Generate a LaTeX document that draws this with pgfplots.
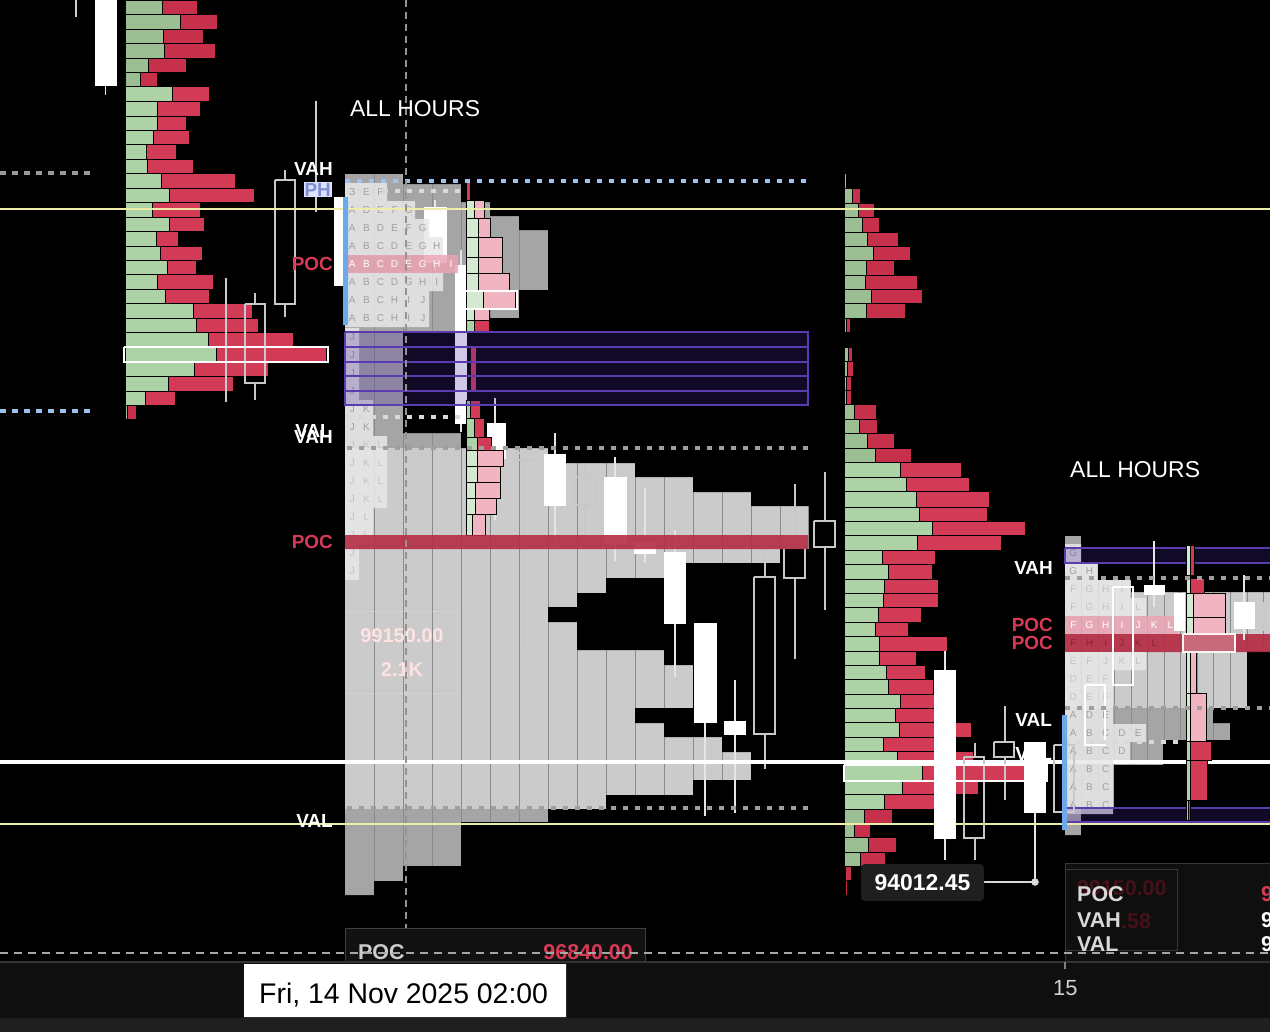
\documentclass[border=0pt]{standalone}
\usepackage{fontspec}
\setmainfont{Liberation Sans}
\usepackage{pgfplots}
\pgfplotsset{compat=1.18}

\definecolor{gU}{HTML}{9BBE92}
\definecolor{gV}{HTML}{ADD2A5}
\definecolor{rU}{HTML}{C6304B}
\definecolor{rV}{HTML}{D23A56}
\definecolor{lg}{HTML}{CBCBCB}
\definecolor{dg}{HTML}{A5A5A5}
\definecolor{cl}{HTML}{8A8A8A}
\definecolor{tc}{HTML}{E8E8E8}
\definecolor{pk}{HTML}{EBA4B4}
\definecolor{pocr}{HTML}{B52D45}
\definecolor{pu}{HTML}{46289A}
\definecolor{pul}{HTML}{5B3BB0}
\definecolor{bl}{HTML}{6EA8EC}
\definecolor{bld}{HTML}{9EC2EE}
\definecolor{yl}{HTML}{EDEDA8}
\definecolor{hol}{HTML}{C8C8C8}
\definecolor{lab}{HTML}{D83A56}
\definecolor{sg}{HTML}{D3EAD0}
\definecolor{sp}{HTML}{F1B5C2}
\definecolor{lt1}{HTML}{A0A0A0}
\definecolor{lt2}{HTML}{C4C4C4}
\definecolor{phc}{HTML}{7D8FD4}

% box: options, x0, y0, x1, y1
\newcommand{\bx}[5]{\addplot[#1] coordinates {(#2,#3) (#4,#3) (#4,#5) (#2,#5) (#2,#3)};}
% profile row: green, red, y0, y1, base, green end, red end
\newcommand{\pr}[7]{\bx{fill=#1,draw=black,line width=.6bp}{#5}{#3}{#6}{#4}\bx{fill=#2,draw=black,line width=.6bp}{#6}{#3}{#7}{#4}}
% gray volume rows
\newcommand{\gr}[4]{\bx{fill=#1,draw=none}{345}{#2}{#4}{#3}}
\newcommand{\grr}[4]{\bx{fill=#1,draw=none}{1065}{#2}{#4}{#3}}
\newcommand{\mk}[3]{\bx{fill=black,draw=none}{#3}{#1}{812}{#2}}
\newcommand{\mkr}[3]{\bx{fill=black,draw=none}{#3}{#1}{1275}{#2}}
\newcommand{\vl}[3]{\addplot[draw=cl,line width=.8bp] coordinates {(#1,#2) (#1,#3)};}
% candles: x0 x1 xc top bottom wicktop wickbottom
\newcommand{\cw}[7]{\addplot[draw=white!90!black,line width=1.3bp] coordinates {(#3,#6) (#3,#4)};
 \addplot[draw=white!90!black,line width=1.3bp] coordinates {(#3,#5) (#3,#7)};
 \bx{fill=white,draw=white,line width=.6bp}{#1}{#4}{#2}{#5}}
\newcommand{\ch}[7]{\addplot[draw=hol,line width=1.3bp] coordinates {(#3,#6) (#3,#4)};
 \addplot[draw=hol,line width=1.3bp] coordinates {(#3,#5) (#3,#7)};
 \bx{draw=hol,fill=none,line width=1.5bp}{#1}{#4}{#2}{#5}}
% TPO letters
\def\tpl#1{\tplA#1\relax}
\def\tplA#1{\ifx#1\relax\else\hbox to 14.1bp{\hss#1\hss}\expandafter\tplA\fi}
\def\tpr#1{\tprA#1\relax}
\def\tprA#1{\ifx#1\relax\else\hbox to 16.2bp{\hss#1\hss}\expandafter\tprA\fi}
\newcommand{\tpf}{\fontsize{10}{12}\selectfont}
\newcommand{\tp}[6]{\bx{fill=#4,draw=none,fill opacity=.85}{345}{#1}{#3}{#2}
 \node[anchor=base west,inner sep=0,text=#5,font=\tpf,yshift=5.5bp] at (axis cs:345,#2) {\tpl{#6}};}
\newcommand{\tpR}[6]{\bx{fill=#4,draw=none,fill opacity=.85}{1065}{#1}{#3}{#2}
 \node[anchor=base west,inner sep=0,text=#5,font=\tpf,yshift=5.5bp] at (axis cs:1065,#2) {\tpr{#6}};}
\newcommand{\lb}[1]{\fontsize{#1}{#1}\selectfont\bfseries}

\begin{document}
\begin{tikzpicture}
\begin{axis}[scale only axis, width=1270bp, height=1032bp,
  xmin=0, xmax=1270, ymin=0, ymax=1032, y dir=reverse,
  hide axis, clip=true, no markers]
\coordinate (SW) at (axis cs:0,1032);
\coordinate (NE) at (axis cs:1270,0);

% background
\bx{fill=black,draw=none}{0}{0}{1270}{1032}

% --- middle volume profile (gray)
\gr{dg}{174}{184}{403} \gr{dg}{184}{202}{461} \gr{dg}{202}{216}{490}
\gr{dg}{216}{230}{519} \gr{dg}{230}{290}{548} \gr{dg}{290}{318}{519}
\gr{dg}{318}{332}{490} \gr{dg}{332}{400}{403} \gr{dg}{400}{433}{403}
\gr{dg}{433}{448}{461}
\gr{lg}{448}{463}{548} \gr{lg}{463}{477}{635} \gr{lg}{477}{492}{693}
\gr{lg}{492}{506}{751} \gr{lg}{506}{549}{808} \gr{lg}{549}{563}{780}
\gr{lg}{563}{578}{664} \gr{lg}{578}{593}{606} \gr{lg}{593}{607}{577}
\gr{lg}{607}{622}{548} \gr{lg}{622}{650}{577} \gr{lg}{650}{665}{664}
\gr{lg}{665}{708}{693} \gr{lg}{708}{723}{635} \gr{lg}{723}{737}{664}
\gr{lg}{737}{752}{722} \gr{lg}{752}{780}{751} \gr{lg}{780}{795}{693}
\gr{lg}{795}{809}{606}
\gr{dg}{809}{822}{548} \gr{dg}{822}{866}{461} \gr{dg}{866}{881}{403}
\gr{dg}{881}{895}{374}
\vl{374}{174}{895} \vl{403}{174}{895} \vl{432}{174}{895} \vl{461}{174}{895}
\vl{490}{174}{895} \vl{519}{174}{895} \vl{548}{174}{895} \vl{577}{174}{895}
\vl{606}{174}{895} \vl{635}{174}{895} \vl{664}{174}{895} \vl{693}{174}{895}
\vl{722}{174}{895} \vl{751}{174}{895} \vl{780}{174}{895} \vl{808}{174}{895}
\mk{174}{184}{403} \mk{184}{202}{461} \mk{202}{216}{490} \mk{216}{230}{519}
\mk{230}{290}{548} \mk{290}{318}{519} \mk{318}{332}{490} \mk{332}{400}{403}
\mk{400}{433}{403} \mk{433}{448}{461} \mk{448}{463}{548} \mk{463}{477}{635}
\mk{477}{492}{693} \mk{492}{506}{751} \mk{506}{549}{809} \mk{549}{563}{780}
\mk{563}{578}{664} \mk{578}{593}{606} \mk{593}{607}{577} \mk{607}{622}{548}
\mk{622}{650}{577} \mk{650}{665}{664} \mk{665}{708}{693} \mk{708}{723}{635}
\mk{723}{737}{664} \mk{737}{752}{722} \mk{752}{780}{751} \mk{780}{795}{693}
\mk{795}{809}{606} \mk{809}{822}{548} \mk{822}{866}{461} \mk{866}{881}{403}
\mk{881}{895}{374}

% --- right volume profile (gray)
\grr{dg}{536}{563}{1081} \grr{lg}{563}{580}{1098} \grr{lg}{580}{592}{1131}
\grr{lg}{592}{651}{1275} \grr{lg}{651}{708}{1247} \grr{dg}{708}{723}{1213}
\grr{dg}{723}{740}{1230} \grr{dg}{740}{765}{1163} \grr{dg}{765}{808}{1114}
\grr{dg}{808}{835}{1081}
\vl{1081}{536}{835} \vl{1098}{536}{835} \vl{1114}{536}{835} \vl{1131}{536}{835}
\vl{1147}{536}{835} \vl{1164}{536}{835} \vl{1180}{536}{835} \vl{1197}{536}{835}
\vl{1213}{536}{835} \vl{1230}{536}{835} \vl{1247}{536}{835} \vl{1263}{536}{835}
\mkr{536}{563}{1081} \mkr{563}{580}{1098} \mkr{580}{592}{1131}
\mkr{651}{708}{1247} \mkr{708}{723}{1213} \mkr{723}{740}{1230}
\mkr{740}{765}{1163} \mkr{765}{808}{1114} \mkr{808}{835}{1081}

% --- left volume profile (green / red)
\pr{gU}{rU}{0}{14}{125}{162}{197}   \pr{gU}{rU}{14}{29}{125}{180}{217}
\pr{gU}{rU}{29}{43}{125}{163}{203}  \pr{gU}{rU}{43}{58}{125}{164}{215}
\pr{gU}{rU}{58}{72}{125}{148}{186}  \pr{gU}{rU}{72}{86}{125}{140}{157}
\pr{gV}{rV}{86}{101}{125}{172}{209} \pr{gV}{rV}{101}{116}{125}{157}{200}
\pr{gV}{rV}{116}{130}{125}{157}{186} \pr{gV}{rV}{130}{144}{125}{153}{189}
\pr{gV}{rV}{144}{159}{125}{146}{176} \pr{gV}{rV}{159}{173}{125}{147}{193}
\pr{gV}{rV}{173}{188}{125}{161}{235} \pr{gV}{rV}{188}{202}{125}{169}{254}
\pr{gV}{rV}{202}{217}{125}{152}{200} \pr{gV}{rV}{217}{231}{125}{169}{204}
\pr{gV}{rV}{231}{246}{125}{156}{178} \pr{gV}{rV}{246}{260}{125}{160}{202}
\pr{gV}{rV}{260}{274}{125}{167}{196} \pr{gV}{rV}{274}{289}{125}{157}{213}
\pr{gV}{rV}{289}{303}{125}{165}{209} \pr{gV}{rV}{303}{318}{125}{193}{252}
\pr{gV}{rV}{318}{332}{125}{196}{258} \pr{gV}{rV}{332}{347}{125}{208}{293}
\pr{gV}{rV}{347}{362}{125}{216}{326} \pr{gV}{rV}{362}{376}{125}{194}{268}
\pr{gV}{rV}{376}{391}{125}{168}{233} \pr{gV}{rV}{391}{405}{125}{145}{175}
\pr{gU}{rU}{405}{419}{125}{127}{136}

% --- middle volume profile (green / red)
\pr{gU}{rU}{173}{188}{844}{846}{846} \pr{gU}{rU}{188}{203}{844}{852}{860}
\pr{gU}{rU}{203}{217}{844}{858}{874} \pr{gU}{rU}{217}{232}{844}{862}{879}
\pr{gU}{rU}{232}{246}{844}{867}{898} \pr{gU}{rU}{246}{260}{844}{873}{910}
\pr{gU}{rU}{260}{275}{844}{866}{894} \pr{gU}{rU}{275}{289}{844}{865}{917}
\pr{gU}{rU}{289}{303}{844}{871}{922} \pr{gU}{rU}{303}{318}{844}{866}{905}
\pr{gU}{rU}{318}{332}{844}{846}{850} \pr{gU}{rU}{332}{347}{844}{845}{846}
\pr{gU}{rU}{347}{361}{844}{848}{852} \pr{gU}{rU}{361}{376}{844}{847}{853}
\pr{gU}{rU}{376}{390}{844}{846}{851} \pr{gU}{rU}{390}{404}{844}{846}{851}
\pr{gU}{rU}{404}{419}{844}{854}{876} \pr{gU}{rU}{419}{433}{844}{859}{877}
\pr{gU}{rU}{433}{448}{844}{867}{894} \pr{gU}{rU}{448}{462}{844}{875}{911}
\pr{gV}{rV}{462}{477}{844}{900}{961} \pr{gV}{rV}{477}{491}{844}{906}{969}
\pr{gV}{rV}{491}{507}{844}{916}{989} \pr{gV}{rV}{507}{521}{844}{919}{987}
\pr{gV}{rV}{521}{535}{844}{932}{1025} \pr{gV}{rV}{535}{550}{844}{917}{1001}
\pr{gV}{rV}{550}{564}{844}{882}{935} \pr{gV}{rV}{564}{579}{844}{888}{932}
\pr{gV}{rV}{579}{593}{844}{884}{938} \pr{gV}{rV}{593}{607}{844}{883}{938}
\pr{gV}{rV}{607}{622}{844}{878}{921} \pr{gV}{rV}{622}{636}{844}{875}{908}
\pr{gV}{rV}{636}{651}{844}{879}{947} \pr{gV}{rV}{651}{665}{844}{879}{916}
\pr{gV}{rV}{665}{679}{844}{886}{925} \pr{gV}{rV}{679}{694}{844}{888}{933}
\pr{gV}{rV}{694}{708}{844}{900}{953} \pr{gV}{rV}{708}{722}{844}{895}{948}
\pr{gV}{rV}{722}{737}{844}{899}{971} \pr{gV}{rV}{737}{751}{844}{883}{945}
\pr{gV}{rV}{751}{765}{844}{897}{973} \pr{gV}{rV}{765}{780}{844}{922}{1045}
\pr{gV}{rV}{780}{794}{844}{902}{978} \pr{gV}{rV}{794}{809}{844}{884}{948}
\pr{gU}{rU}{809}{823}{844}{864}{892} \pr{gU}{rU}{823}{837}{844}{854}{870}
\pr{gU}{rU}{837}{852}{844}{868}{896} \pr{gU}{rU}{852}{866}{844}{860}{885}
\pr{gU}{rU}{866}{880}{844}{845}{851} \pr{gU}{rU}{880}{895}{844}{845}{847}

% --- candles (left and middle)
\addplot[draw=white!80!black,line width=1.3bp] coordinates {(76,0) (76,17)};
\cw{95}{116}{105.5}{0}{85}{0}{95}
\ch{275}{295}{285}{180}{304}{170}{317}
\addplot[draw=white!80!black,line width=1.3bp] coordinates {(316,101) (316,212)};
\ch{245}{265}{255}{304}{383}{293}{400}
\addplot[draw=white!80!black,line width=1.3bp] coordinates {(226,278) (226,402)};
\cw{334}{347}{341}{197}{285}{197}{285}
\cw{424}{446}{435}{207}{262}{200}{270}
\cw{455}{466}{461}{265}{423}{250}{432}
\cw{487}{505}{495}{423}{458}{398}{520}
\ch{514}{536}{525}{453}{460}{448}{650}
\cw{544}{565}{555}{454}{505}{433}{549}
\ch{574}{595}{585}{477}{505}{465}{548}
\cw{604}{626}{615}{477}{543}{457}{561}
\cw{634}{655}{645}{542}{553}{488}{563}
\cw{664}{685}{675}{552}{623}{530}{677}
\cw{694}{716}{705}{623}{722}{623}{816}
\cw{724}{745}{735}{721}{734}{680}{813}
\ch{754}{775}{765}{577}{734}{547}{769}
\ch{784}{805}{795}{548}{578}{484}{659}
\ch{814}{835}{825}{521}{547}{472}{610}

% --- middle TPO letters
\tp{183}{201}{387}{tc}{lt1}{BEF}
\tp{201}{219}{415}{tc}{lt1}{ADEFG}
\tp{219}{237}{429}{tc}{lt1}{ABDEFG}
\tp{237}{255}{443}{tc}{lt1}{ABCDEGH}
\tp{255}{273}{458}{pk}{white}{ABCDEGHI}
\tp{273}{291}{443}{tc}{lt1}{ABCDGHI}
\tp{291}{309}{429}{tc}{lt1}{ABCHIJ}
\tp{309}{327}{429}{tc}{lt1}{ABCHIJ}
\tp{328}{346}{359}{tc}{lt1}{J}
\tp{346}{364}{359}{tc}{lt1}{J}
\tp{364}{382}{359}{tc}{lt1}{J}
\tp{382}{400}{359}{tc}{lt1}{J}
\tp{400}{418}{373}{tc}{lt1}{JK}
\tp{418}{436}{373}{tc}{lt1}{JK}
\tp{436}{454}{387}{tc}{lt2}{JKL}
\tp{454}{472}{387}{tc}{lt2}{JKL}
\tp{472}{490}{387}{tc}{lt2}{JKL}
\tp{490}{508}{387}{tc}{lt2}{JKL}
\tp{508}{526}{373}{tc}{lt2}{JL}
\tp{526}{544}{373}{tc}{lt2}{JL}
\tp{544}{562}{359}{tc}{lt2}{J}
\tp{562}{580}{359}{tc}{lt2}{J}

% --- small session profile (middle)
\pr{rV}{rV}{182}{200}{466}{466}{470}
\pr{sg}{sp}{200}{218}{466}{474}{484}
\pr{sg}{sp}{218}{237}{466}{478}{490}
\pr{sg}{sp}{237}{257}{466}{478}{502}
\pr{sg}{sp}{257}{273}{466}{478}{502}
\pr{sg}{sp}{273}{290}{466}{478}{509}
\pr{sg}{sp}{290}{308}{466}{483}{515}
\pr{sg}{sp}{308}{320}{466}{474}{489}
\pr{gV}{rV}{320}{332}{466}{474}{489}
\pr{rV}{rV}{345}{390}{470}{470}{476}
\pr{gV}{rV}{400}{418}{466}{470}{480}
\pr{gV}{rV}{418}{437}{466}{474}{484}
\pr{gV}{rV}{437}{450}{466}{477}{491}
\pr{sg}{sp}{450}{466}{466}{477}{503}
\pr{sg}{sp}{466}{482}{466}{477}{500}
\pr{sg}{sp}{482}{498}{466}{475}{500}
\pr{sg}{sp}{498}{514}{466}{475}{496}
\pr{sg}{sp}{514}{535}{466}{472}{485}
\bx{draw=white,fill=none,line width=2.5bp}{462}{291}{517}{309}

% --- full width lines
\addplot[draw=yl,line width=1.5bp] coordinates {(0,209) (1270,209)};
\addplot[draw=yl,line width=1.5bp] coordinates {(0,824) (1270,824)};
\addplot[draw=white,line width=3.2bp] coordinates {(0,762) (1270,762)};

% --- middle POC bar and purple zone
\bx{fill=pocr,draw=none,fill opacity=.9}{345}{535}{808}{549}
\bx{fill=pu,draw=pul,line width=1.5bp,fill opacity=.25}{345}{332}{808}{347}
\bx{fill=pu,draw=pul,line width=1.5bp,fill opacity=.25}{345}{347}{808}{362}
\bx{fill=pu,draw=pul,line width=1.5bp,fill opacity=.25}{345}{362}{808}{376}
\bx{fill=pu,draw=pul,line width=1.5bp,fill opacity=.25}{345}{376}{808}{391}
\bx{fill=pu,draw=pul,line width=1.5bp,fill opacity=.25}{345}{391}{808}{405}

% --- right TPO letters
\tpR{544}{562}{1081}{tc}{lt1}{G}
\tpR{562}{580}{1097}{tc}{lt1}{GH}
\tpR{580}{598}{1130}{tc}{lt2}{FGHI}
\tpR{598}{616}{1146}{tc}{lt2}{FGHIL}
\tpR{616}{634}{1178}{pk}{white}{FGHIJKL}
\bx{fill=pocr,draw=none,fill opacity=.92}{1065}{634}{1275}{652}
\node[anchor=base west,inner sep=0,text=rU!70!black,font=\tpf,yshift=5.5bp] at (axis cs:1065,652) {\tpr{FHIJKL}};
\tpR{652}{670}{1146}{tc}{lt2}{EFJKL}
\tpR{670}{688}{1113}{tc}{lt2}{DEF}
\tpR{688}{706}{1113}{tc}{lt2}{DEF}
\tpR{706}{724}{1113}{tc}{lt1}{ADE}
\tpR{724}{742}{1146}{tc}{lt1}{ABCDE}
\tpR{742}{760}{1130}{tc}{lt1}{ABCD}
\tpR{760}{778}{1113}{tc}{lt1}{ABC}
\tpR{778}{796}{1113}{tc}{lt1}{ABC}
\tpR{796}{814}{1113}{tc}{lt1}{ABC}
\bx{fill=pu,draw=pul,line width=1.5bp,fill opacity=.25}{1065}{548}{1280}{563}
\bx{fill=pu,draw=pul,line width=1.5bp,fill opacity=.25}{1065}{808}{1280}{822}

% --- small session profile (right)
\pr{sg}{rV}{545}{575}{1186}{1190}{1194}
\pr{sg}{rV}{578}{593}{1186}{1190}{1204}
\pr{sg}{sp}{593}{617}{1186}{1193}{1225}
\pr{sg}{sp}{617}{633}{1186}{1193}{1225}
\pr{sg}{sp}{651}{693}{1186}{1190}{1196}
\pr{sg}{sp}{693}{741}{1186}{1190}{1206}
\pr{gV}{rV}{741}{760}{1186}{1190}{1211}
\pr{gV}{rV}{760}{800}{1186}{1190}{1207}
\pr{gV}{rV}{800}{820}{1186}{1188}{1190}
\bx{draw=white!85!pink,fill=white,fill opacity=.25,line width=1.5bp}{1183}{634}{1235}{652}

% partly hidden label, under the candles
\node[anchor=base east,inner sep=0,text=white,font=\lb{19}] at (axis cs:1052,760) {VAL};

% --- right candles
\cw{934}{955}{945}{670}{838}{651}{860}
\ch{964}{984}{975}{757}{838}{743}{860}
\ch{994}{1014}{1005}{742}{757}{706}{800}
\cw{1024}{1045}{1035}{742}{812}{742}{882}
\ch{1054}{1074}{1064}{745}{812}{735}{830}
\bx{draw=white,fill=none,line width=1.3bp}{1085}{685}{1105}{745}
\bx{draw=white,fill=none,line width=1.3bp}{1113}{587}{1133}{685}
\cw{1144}{1164}{1154}{585}{594}{541}{607}
\cw{1174}{1184}{1179}{593}{630}{593}{630}
\cw{1234}{1254}{1244}{602}{628}{575}{640}
\ch{1264}{1284}{1274}{602}{630}{590}{640}

% --- dashed and dotted levels
\addplot[draw=gray!80,line width=4bp,dash pattern=on 6bp off 6bp] coordinates {(0,173) (90,173)};
\addplot[draw=bld,line width=4bp,dash pattern=on 6bp off 6bp] coordinates {(0,411) (90,411)};
\addplot[draw=bld,line width=4bp,dash pattern=on 5bp off 7bp] coordinates {(345,181) (808,181)};
\addplot[draw=white!85!black,line width=3.5bp,dash pattern=on 5bp off 7bp] coordinates {(347,191) (460,191)};
\addplot[draw=white!85!black,line width=3.5bp,dash pattern=on 5bp off 7bp] coordinates {(347,417) (460,417)};
\addplot[draw=gray!75,line width=3.5bp,dash pattern=on 5bp off 7bp] coordinates {(347,448) (808,448)};
\addplot[draw=gray!75,line width=3.5bp,dash pattern=on 5bp off 7bp] coordinates {(347,808) (808,808)};
\addplot[draw=gray!75,line width=3.5bp,dash pattern=on 5bp off 7bp] coordinates {(1065,578) (1270,578)};
\addplot[draw=gray!75,line width=3.5bp,dash pattern=on 5bp off 7bp] coordinates {(1065,708) (1270,708)};
\addplot[draw=white!85!black,line width=3.5bp,dash pattern=on 5bp off 7bp] coordinates {(1065,742) (1180,742)};

% --- POC outlines and value-area bars
\bx{draw=white,fill=none,line width=2.8bp}{124}{347}{328}{362}
\bx{draw=white,fill=none,line width=2.8bp}{844}{765}{1047}{781}
\bx{fill=bl,draw=none}{343}{197}{348}{325}
\bx{fill=bl,draw=none}{1062}{715}{1067}{830}

% faint tooltip
\bx{draw=white!70!gray,fill=none,line width=.8bp,opacity=.5}{345}{611}{457}{693}
\node[anchor=base,text=pink!45!white,font=\lb{20}] at (axis cs:402,642) {99150.00};
\node[anchor=base,text=pink!45!white,font=\lb{20}] at (axis cs:402,676) {2.1K};

% crosshair
\addplot[draw=gray!85,line width=1.5bp,dash pattern=on 7bp off 5bp] coordinates {(406,0) (406,962)};

% --- bottom tooltips and time axis
\bx{fill=black!93!white,draw=black!75!white,line width=1bp}{345}{928}{645}{965}
\bx{fill=black!94!white,draw=black!78!white,line width=1bp}{1065}{863}{1280}{965}
\bx{fill=none,draw=black!78!white,line width=1bp}{1065}{869}{1177}{950}
\node[anchor=base west,inner sep=0,text=rU!35!black,font=\lb{21.5}] at (axis cs:1077,895) {99150.00};
\node[anchor=base west,inner sep=0,text=rU!35!black,font=\lb{21.5}] at (axis cs:1121,928) {.58};
\node[anchor=base west,inner sep=0,text=white!85!black,font=\lb{21.5}] at (axis cs:1077,901) {POC};
\node[anchor=base west,inner sep=0,text=white!85!black,font=\lb{21.5}] at (axis cs:1077,927) {VAH};
\node[anchor=base west,inner sep=0,text=white!85!black,font=\lb{21.5}] at (axis cs:1077,951) {VAL};
\node[anchor=base west,inner sep=0,text=lab,font=\lb{21.5}] at (axis cs:1261,901) {9};
\node[anchor=base west,inner sep=0,text=white,font=\lb{21.5}] at (axis cs:1261,927) {9};
\node[anchor=base west,inner sep=0,text=white,font=\lb{21.5}] at (axis cs:1261,951) {9};
\node[anchor=base west,inner sep=0,text=white!80!black,font=\lb{21.5}] at (axis cs:358,959) {POC};
\node[anchor=base east,inner sep=0,text=lab,font=\lb{21.5}] at (axis cs:633,959) {96840.00};
\addplot[draw=gray!70,line width=1.5bp,dash pattern=on 8bp off 6bp] coordinates {(0,953) (1270,953)};
\bx{fill=black!94!white,draw=none}{0}{962}{1270}{1032}
\bx{fill=black!88!white,draw=none}{0}{1018}{1270}{1032}
\addplot[draw=black!80!white,line width=1.5bp] coordinates {(0,962) (1270,962)};
\addplot[draw=gray,line width=1.5bp] coordinates {(1065,962) (1065,969)};
\bx{fill=white,draw=none}{244}{964}{566}{1017}
\node[anchor=base west,inner sep=0,text=black,font=\fontsize{28.5}{30}\selectfont] at (axis cs:259,1003) {Fri, 14 Nov 2025 02:00};
\node[anchor=base west,inner sep=0,text=white!82!black,font=\fontsize{22}{24}\selectfont] at (axis cs:1053,995) {15};

% current price label
\addplot[draw=white!85!black,line width=1.5bp] coordinates {(984,882) (1035,882)};
\addplot[only marks,mark=*,mark size=3.5bp,white!85!black] coordinates {(1035,882)};
\node[fill=black!88!white,rounded corners=4bp,minimum width=123bp,minimum height=37bp,inner sep=0,text=white,font=\lb{23}] at (axis cs:922.5,882.5) {94012.45};

% --- level labels
\node[anchor=base west,inner sep=0,text=white,font=\fontsize{23}{25}\selectfont] at (axis cs:350,116) {ALL HOURS};
\node[anchor=base west,inner sep=0,text=white,font=\fontsize{23}{25}\selectfont] at (axis cs:1070,477) {ALL HOURS};
\node[anchor=base east,inner sep=0,text=white,font=\lb{19}] at (axis cs:333,175) {VAH};
\node[anchor=base east,inner sep=1bp,fill=white!88!blue,text=phc,font=\lb{19}] at (axis cs:332,196) {PH};
\node[anchor=base east,inner sep=0,text=lab,font=\lb{19}] at (axis cs:333,270) {POC};
\node[anchor=base east,inner sep=0,text=white,font=\lb{19}] at (axis cs:332,437) {VAL};
\node[anchor=base east,inner sep=0,text=white,font=\lb{19}] at (axis cs:333,443) {VAH};
\node[anchor=base east,inner sep=0,text=lab,font=\lb{19}] at (axis cs:333,548) {POC};
\node[anchor=base east,inner sep=0,text=white,font=\lb{19}] at (axis cs:333,827) {VAL};
\node[anchor=base east,inner sep=0,text=white,font=\lb{19}] at (axis cs:1053,574) {VAH};
\node[anchor=base east,inner sep=0,text=lab,font=\lb{19}] at (axis cs:1053,631) {POC};
\node[anchor=base east,inner sep=0,text=lab,font=\lb{19}] at (axis cs:1053,649) {POC};
\node[anchor=base east,inner sep=0,text=white,font=\lb{19}] at (axis cs:1052,726) {VAL};
\end{axis}
\pgfresetboundingbox
\useasboundingbox (SW) rectangle (NE);
\end{tikzpicture}
\end{document}
